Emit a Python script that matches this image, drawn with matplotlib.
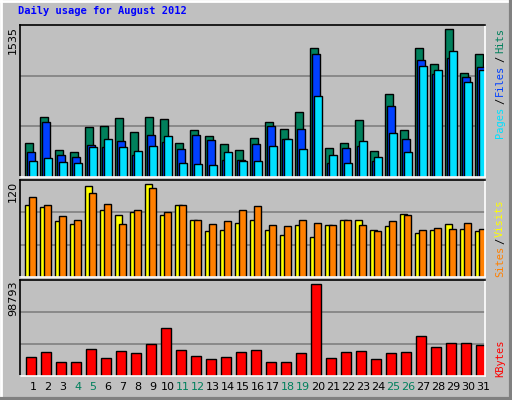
import numpy as np
import matplotlib
matplotlib.use("Agg")
import matplotlib.pyplot as plt
from matplotlib.lines import Line2D

days = [str(d) for d in range(1, 32)]
weekend = [4, 5, 11, 12, 18, 19, 25, 26]

hits = [348, 602, 277, 256, 500, 510, 592, 459, 602, 581, 348, 470, 409, 338, 277, 398,
        551, 480, 653, 1303, 297, 348, 571, 266, 836, 470, 1303, 1141, 1497, 1049, 1243]
files = [256, 551, 226, 205, 327, 307, 368, 226, 429, 358, 287, 429, 378, 175, 175, 338,
         510, 388, 480, 1243, 144, 297, 317, 165, 714, 388, 1182, 1039, 1202, 1009, 1111]
pages = [165, 195, 155, 144, 307, 388, 307, 266, 317, 419, 144, 134, 124, 256, 165, 165,
         317, 388, 287, 815, 226, 144, 368, 205, 449, 256, 1120, 1080, 1273, 958, 1080]
visits = [86, 84, 67, 64, 109, 80, 74, 78, 112, 74, 86, 69, 55, 56, 65, 68,
          56, 51, 62, 48, 63, 69, 68, 56, 61, 76, 53, 57, 64, 58, 55]
sites = [96, 86, 73, 69, 101, 88, 64, 80, 107, 78, 86, 68, 64, 67, 80, 85,
         62, 61, 68, 65, 63, 69, 62, 55, 67, 75, 57, 59, 58, 65, 58]
kbytes = [20628, 26056, 15200, 15200, 29313, 19542, 27141, 24970, 34741, 51026, 28227,
          21713, 18456, 20628, 26056, 28227, 15200, 15200, 24970, 98793, 19542, 26056,
          27141, 18456, 24970, 26056, 43426, 31484, 35827, 35827, 33655]

W, H = 512, 400
BG = "#C0C0C0"
fig = plt.figure(figsize=(W / 100, H / 100), dpi=100, facecolor=BG)
mono = "DejaVu Sans Mono"


def px_axes(x0, y0, x1, y1):
    ax = fig.add_axes([x0 / W, 1 - y1 / H, (x1 - x0) / W, (y1 - y0) / H])
    ax.set_facecolor(BG)
    for s in ["left", "top"]:
        ax.spines[s].set_color("black")
    for s in ["right", "bottom"]:
        ax.spines[s].set_color("white")
    for s in ax.spines.values():
        s.set_linewidth(1.2)
    ax.set_xlim(-1 / 3, 30.667)
    ax.set_xticks([])
    ax.set_yticks([])
    return ax


def grid(ax, top):
    for f in (1 / 3, 2 / 3):
        ax.axhline(top * f, color="#808080", lw=1.2, zorder=0)


x = np.arange(31)
bar_kw = dict(align="edge", edgecolor="black", linewidth=1, width=0.51)

# top panel
ax1 = px_axes(20, 25, 485, 177)
top1 = 1535 * 1.0
ax1.set_ylim(0, top1)
grid(ax1, top1)
ax1.bar(x, hits, color="#00805C", **bar_kw)
ax1.bar(x + 0.15, files, color="#0040FF", **bar_kw)
ax1.bar(x + 0.27, pages, color="#00E0FF", **bar_kw)

# middle panel
ax2 = px_axes(20, 180, 485, 277)
top2 = 116.4
ax2.set_ylim(0, top2)
grid(ax2, top2)
bar_kw["width"] = 0.47
ax2.bar(x + 0.02, visits, color="#FFFF00", **bar_kw)
ax2.bar(x + 0.29, sites, color="#FF8000", **bar_kw)

# bottom panel
ax3 = px_axes(20, 280, 485, 376)
top3 = 103000
ax3.set_ylim(0, top3)
grid(ax3, top3)
bar_kw["width"] = 0.67
ax3.bar(x + 0.09, kbytes, color="#FF0000", **bar_kw)

for i, d in enumerate(days):
    c = "#00805C" if int(d) in weekend else "black"
    ax3.text(x[i] + 0.53, -0.06, d, transform=ax3.get_xaxis_transform(),
             ha="center", va="top", fontsize=8, color=c)

# y maxima on the left
for y, lab in [(25, "1535"), (180, "120"), (280, "98793")]:
    fig.text(13 / W, 1 - (y + 1) / H, lab, rotation=90, ha="center", va="top",
             fontsize=8, color="black")

# title
fig.text(18 / W, 1 - 11 / H, "Daily usage for August 2012", family=mono,
         fontweight="bold", fontsize=7.5, color="#0000FF", ha="left", va="center")


def side(parts, xp=500):
    for word, ybot, col in parts:
        fig.text(xp / W, 1 - ybot / H, word, rotation=90, family=mono, fontsize=7.5,
                 color=col, ha="center", va="bottom")


side([("Pages", 138, "#00E0FF"), ("/", 104, "black"), ("Files", 96, "#0040FF"),
      ("/", 62, "black"), ("Hits", 53, "#00805C")])
side([("Sites", 277, "#FF8000"), ("/", 244, "black"), ("Visits", 237, "#FFFF00")])
side([("KBytes", 377, "#FF0000")])

# bevelled border
def fl(x0, y0, x1, y1, c, lw=2):
    fig.add_artist(Line2D([x0 / W, x1 / W], [1 - y0 / H, 1 - y1 / H], color=c, lw=lw,
                          transform=fig.transFigure))

fl(0, 0.5, W, 0.5, "white")
fl(0.5, 0, 0.5, H, "white")
fl(W - 1.5, 0, W - 1.5, H, "#808080", 3)
fl(0, H - 1.5, W, H - 1.5, "#808080", 3)

fig.savefig("out.png", dpi=100, facecolor=BG)
